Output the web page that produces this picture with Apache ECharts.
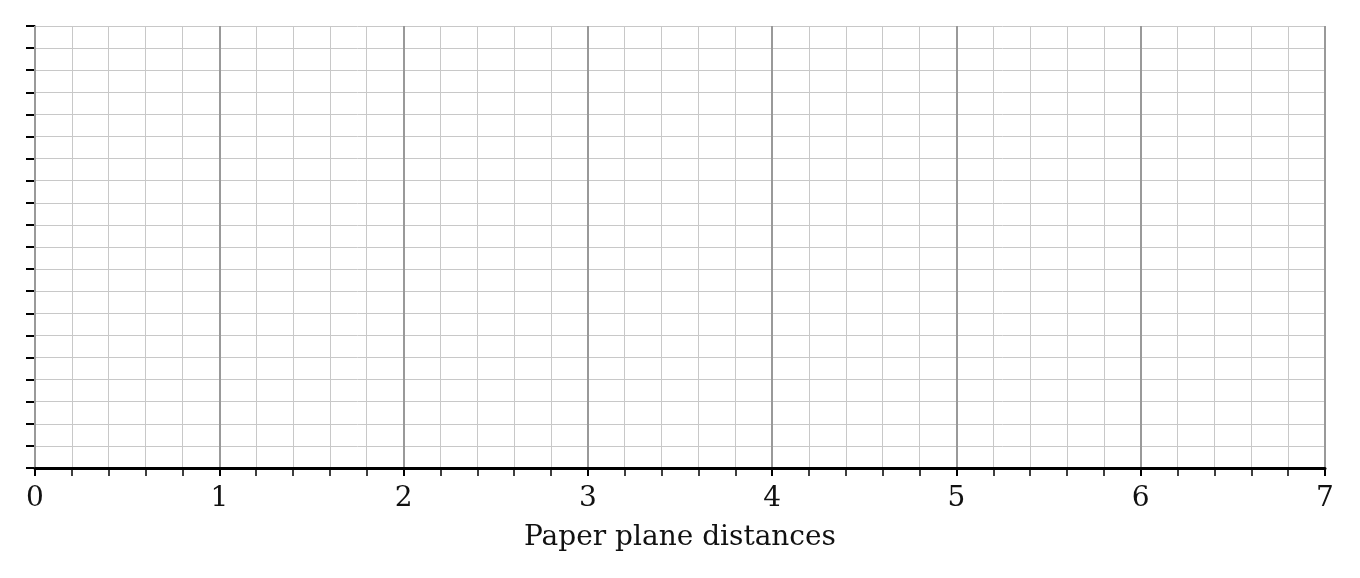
<!DOCTYPE html>
<html>
<head>
<meta charset="utf-8">
<script src="https://cdn.jsdelivr.net/npm/echarts@6/dist/echarts.min.js"></script>
<style>html,body{margin:0;padding:0;background:#fff}#c{width:1360px;height:578px}</style>
</head>
<body>
<div id="c"></div>
<script>
const xMin = 0;
const xMax = 7;
const xMajorStep = 1;
const xMinorDivisions = 5;
const yMin = 0;
const yMax = 20;
const yStep = 1;
const xTitle = 'Paper plane distances';
const seriesValues = [];

const chart = echarts.init(document.getElementById('c'));
chart.setOption({
  animation: false,
  backgroundColor: '#fff',
  grid: { left: 35, right: 35, top: 26, bottom: 110, containLabel: false },
  xAxis: {
    type: 'value', min: xMin, max: xMax, interval: xMajorStep,
    name: xTitle, nameLocation: 'middle', nameGap: 56,
    nameTextStyle: { fontFamily: 'DejaVu Serif', fontSize: 28, color: '#111' },
    axisLine: { show: true, onZero: false, lineStyle: { color: '#000', width: 3 } },
    axisTick: { show: true, length: 8, lineStyle: { color: '#000', width: 2 } },
    minorTick: { show: true, splitNumber: xMinorDivisions, length: 8, lineStyle: { color: '#000', width: 1.5 } },
    axisLabel: { margin: 17, fontFamily: 'DejaVu Serif', fontSize: 28, color: '#111' },
    splitLine: { show: true, lineStyle: { color: '#999', width: 2 } },
    minorSplitLine: { show: true, lineStyle: { color: '#c8c8c8', width: 1 } },
    z: 5
  },
  yAxis: {
    type: 'value', min: yMin, max: yMax, interval: yStep,
    axisLine: { show: true, lineStyle: { color: '#999', width: 2 } },
    axisTick: { show: true, length: 9, lineStyle: { color: '#000', width: 2 } },
    axisLabel: { show: false },
    splitLine: { show: true, lineStyle: { color: '#c8c8c8', width: 1 } }
  },
  series: [{ type: 'scatter', data: seriesValues }]
});
</script>
</body>
</html>
